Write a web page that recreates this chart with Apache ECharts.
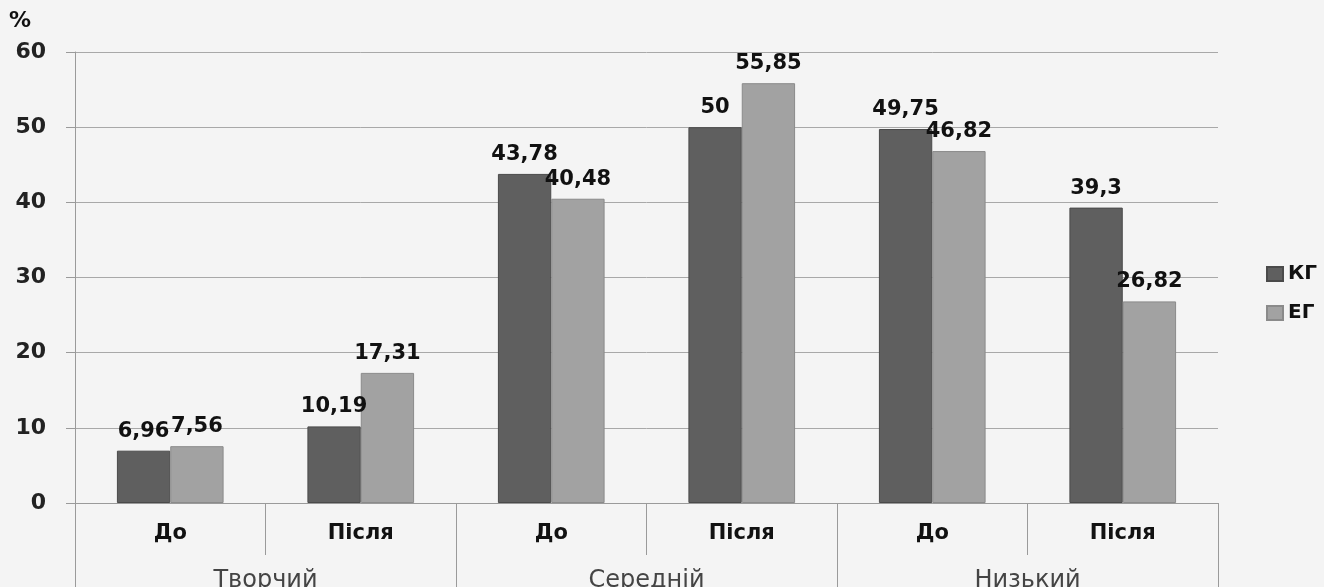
<!DOCTYPE html>
<html><head><meta charset="utf-8">
<style>html,body{margin:0;padding:0;background:#f4f4f4;}#c{width:1324px;height:587px;}</style>
<script src="https://cdn.jsdelivr.net/npm/echarts@6/dist/echarts.min.js"></script>
</head><body><div id="c"></div>
<script>
const subCategories = ['До','Після','До','Після','До','Після'];
const groups = ['Творчий','Середній','Низький'];
const seriesNames = ['КГ','ЕГ'];
const kgValues = [6.96, 10.19, 43.78, 50, 49.75, 39.3];
const egValues = [7.56, 17.31, 40.48, 55.85, 46.82, 26.82];
const yTicks = [0,10,20,30,40,50,60];

const fmt = v => String(v).replace('.', ',');
const chart = echarts.init(document.getElementById('c'));
const font = 'DejaVu Sans';
const labelStyle = {show: true, position: 'top', distance: 9, formatter: p => fmt(p.value),
  fontFamily: font, fontWeight: 'bold', fontSize: 21, color: '#111'};
chart.setOption({
  backgroundColor: '#f4f4f4',
  animation: false,
  textStyle: {fontFamily: font},
  grid: {left: 75, right: 106, top: 52, bottom: 84, containLabel: false, outerBoundsMode: 'none'},
  legend: {
    orient: 'vertical', left: 1261, top: 259, itemWidth: 16, itemHeight: 14, itemGap: 19,
    icon: 'rect',
    textStyle: {fontFamily: font, fontWeight: 'bold', fontSize: 20, color: '#111'},
    data: seriesNames
  },
  graphic: [{type: 'text', left: 9, top: 10, style: {text: '%', font: 'bold 22px "DejaVu Sans"', fill: '#111'}}],
  xAxis: [{
    type: 'category', data: subCategories, position: 'bottom',
    axisLine: {show: true, lineStyle: {color: '#9a9a9a', width: 1}},
    axisTick: {show: true, interval: 0, length: 52, lineStyle: {color: '#9a9a9a'}},
    axisLabel: {interval: 0, margin: 20, fontFamily: font, fontWeight: 'bold', fontSize: 21, color: '#111'}
  }, {
    type: 'category', data: groups, position: 'bottom',
    axisLine: {show: false},
    axisTick: {show: true, interval: 0, length: 90, lineStyle: {color: '#9a9a9a'}},
    axisLabel: {interval: 0, margin: 66, fontFamily: font, fontSize: 24, color: '#444'}
  }],
  yAxis: {
    type: 'value', min: yTicks[0], max: yTicks[yTicks.length-1], interval: 10,
    axisLine: {show: true, lineStyle: {color: '#9a9a9a'}},
    axisTick: {show: true, length: 9, lineStyle: {color: '#9a9a9a'}},
    splitLine: {lineStyle: {color: '#a8a8a8', width: 1}},
    axisLabel: {margin: 29, fontFamily: font, fontWeight: 'bold', fontSize: 22, color: '#222'}
  },
  series: [{
    name: seriesNames[0], type: 'bar', data: kgValues, barGap: '0%', barCategoryGap: '44%',
    itemStyle: {color: '#5f5f5f', borderColor: '#4a4a4a', borderWidth: 1},
    label: labelStyle
  }, {
    name: seriesNames[1], type: 'bar', data: egValues,
    itemStyle: {color: '#a2a2a2', borderColor: '#8a8a8a', borderWidth: 1},
    label: labelStyle
  }]
});
</script></body></html>
